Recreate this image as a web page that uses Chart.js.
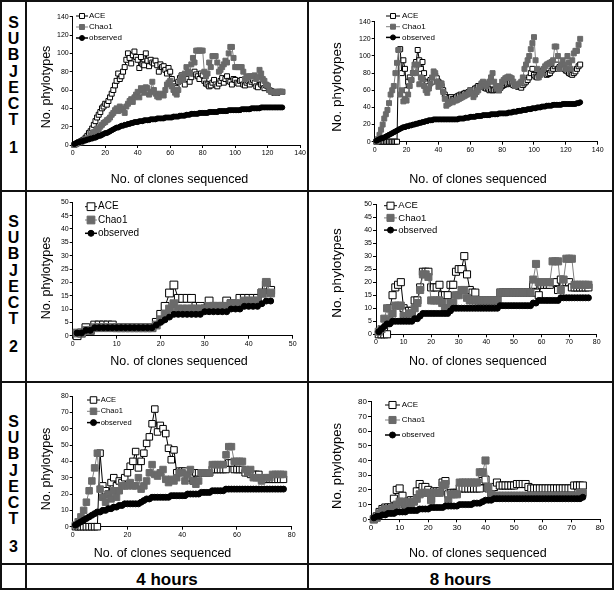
<!DOCTYPE html>
<html>
<head>
<meta charset="utf-8">
<script src="https://cdn.jsdelivr.net/npm/chart.js@4.4.0/dist/chart.umd.min.js"></script>
<style>
body{margin:0;background:#fff;}
#wrap{position:relative;width:616px;height:591px;overflow:hidden;font-family:"Liberation Sans",Arial,sans-serif;color:#000;}
canvas{position:absolute;}
.ln{position:absolute;background:#111;}
.subj{position:absolute;left:0;width:27px;text-align:center;font-weight:bold;font-size:16px;line-height:16.2px;}
.subj span{display:block;margin-top:11.8px;}
.hrs{position:absolute;top:570px;font-weight:bold;font-size:17px;line-height:20px;text-align:center;}
</style>
</head>
<body>
<div id="wrap">
  <div class="subj" style="top:15px">S<br>U<br>B<br>J<br>E<br>C<br>T<span>1</span></div>
  <div class="subj" style="top:214px">S<br>U<br>B<br>J<br>E<br>C<br>T<span>2</span></div>
  <div class="subj" style="top:414px">S<br>U<br>B<br>J<br>E<br>C<br>T<span>3</span></div>
  <div class="hrs" style="left:27px;width:280px">4 hours</div>
  <div class="hrs" style="left:309px;width:303px">8 hours</div>
</div>
<script>
// subject 1, 4 hours (x = 1..129)
const s1h4Ace = [0,1,2,3,4,5,6,8,10,13, 15,18,22,26,30,33,36,40,42,45, 44,48,52,56,60,65,70,78,72,75,
  80,85,93,100,95,89,98,102,96,93, 84,96,88,87,100,92,86,93,90,89, 92,87,80,88,85,86,82,78,84,80,
  72,67,64,62,69,73,76,70,66,75, 72,69,74,78,80,77,75,72,78,76, 70,67,66,64,65,68,71,66,64,67,
  70,73,68,72,75,70,69,66,72,71, 68,67,70,71,66,65,68,70,66,69, 71,68,64,63,71,66,67,62,65,64,
  60,59,58,57,58,57,58,58,58];
const s1h4Chao = [0,1,2,3,3,4,5,6,7,8, 10,12,14,15,18,16,20,22,24,25, 27,28,30,33,35,38,40,37,42,40,
  38,35,42,45,48,50,47,52,55,58, 52,62,60,57,63,62,55,58,69,60, 56,53,52,56,55,54,60,66,68,70,
  64,60,57,55,60,70,75,72,78,85, 80,78,88,95,90,103,103,103,103,103, 80,75,78,90,85,97,97,97,90,80,
  82,85,88,92,90,100,107,107,95,85, 85,85,85,85,80,72,75,74,75,75, 75,76,72,74,82,78,72,70,66,65,
  60,58,58,58,57,58,58,58,58];
const s1h4Obs = [1,2,3,3,4,4,5,5,6,6, 7,7,8,8,9,10,10,11,12,13, 13,14,15,16,17,18,19,19,20,21,
  21,22,22,23,23,24,24,25,25,25, 26,26,26,27,27,27,27,28,28,28, 28,29,29,29,29,29,30,30,30,30,
  30,31,31,31,31,32,32,32,32,33, 33,33,34,34,34,34,34,35,35,35, 35,35,35,36,36,36,36,36,36,37,
  37,37,37,37,37,38,38,38,38,38, 38,38,38,39,39,39,39,39,39,40, 40,40,40,40,40,41,41,41,41,41,
  41,41,41,41,41,41,41,41,41];

// subject 1, 8 hours (x = 1..129)
const s1h8Ace = [0,0,0,0,0,0,0,0,0,0, 0,0,0,0,107,108,80,95,85,60, 70,75,72,80,85,93,107,95,85,93,
  80,70,68,65,72,70,75,77,74,70, 68,65,60,55,52,50,51,52,50,50, 52,53,54,55,54,56,57,56,58,60,
  58,60,62,63,65,64,66,65,63,62, 62,60,61,60,60,61,62,60,63,65, 66,68,67,68,69,68,66,65,65,64,
  65,63,66,68,70,72,75,80,85,78, 76,75,78,80,82,84,80,78,79,80, 83,85,88,90,85,87,88,86,85,83,
  82,80,79,78,80,82,85,88,90];
const s1h8Chao = [0,3,8,14,20,27,32,37,45,55, 60,65,80,92,107,55,60,47,50,48, 55,65,72,80,90,80,90,67,75,73,
  65,60,57,62,68,75,82,80,70,64, 66,68,58,50,42,44,45,47,46,48, 48,49,50,51,52,53,54,55,57,60,
  56,52,55,58,60,64,68,70,67,65, 68,70,75,80,70,65,62,60,65,70, 72,74,75,76,75,74,70,65,66,67,
  68,70,75,85,90,95,100,108,115,122, 95,85,75,78,80,85,88,90,91,92, 93,95,111,111,100,85,90,95,90,85,
  100,92,85,95,103,106,106,113,120];
const s1h8Obs = [1,2,3,4,4,5,6,7,8,9, 10,11,12,13,14,15,16,17,17,18, 18,19,19,20,20,21,21,22,22,23,
  23,24,24,25,25,25,26,26,26,26, 26,26,26,26,26,26,26,26,26,26, 26,26,27,27,27,27,28,28,28,29,
  29,29,29,30,30,30,30,31,31,31, 31,31,32,32,32,32,32,33,33,33, 33,33,33,34,34,34,35,35,35,36,
  36,36,37,37,37,38,38,38,39,39, 39,40,40,40,41,41,41,42,42,42, 42,43,43,43,43,43,43,44,44,44,
  44,44,44,44,44,44,45,45,46];

// subject 2, 4 hours (x = 1..45)
const s2h4Ace = [0,1,3,2,4,4,4,4,4,3, 3,3,3,3,3,3,3,3,5,8, 11,16,19,14,14,14,14,11,11,10,
  13,11,11,11,13,12,12,14,14,14, 14,14,16,19,17];
const s2h4Chao = [1,1,2,2,3,3,3,3,3,3, 3,3,3,3,3,3,3,3,4,6, 8,10,12,10,10,10,10,10,10,10,
  11,11,11,11,11,12,12,12,13,13, 13,13,16,20,16];
const s2h4Obs = [1,1,2,2,3,3,3,3,3,3, 3,3,3,3,3,3,3,3,4,5, 6,7,8,8,8,8,8,8,8,9,
  9,9,9,9,9,10,10,10,11,11, 11,11,12,13,13];

// subject 2, 8 hours (x = 1..77)
const s2h8Ace = [0,0,0,0,10,15,18,19,20,10, 9,9,9,13,13,18,24,24,24,18, 18,18,19,15,15,15,19,19,24,25,
  25,30,23,17,16,16,13,13,13,13, 13,13,13,13,16,16,16,16,16,16, 16,16,16,16,16,16,19,16,15,19,
  19,19,19,20,20,17,21,20,20,20, 18,18,18,18,18,18,18];
const s2h8Chao = [1,2,6,10,5,8,11,11,11,7, 7,8,8,10,12,17,23,23,22,13, 13,13,13,12,10,10,12,12,15,15,
  17,17,14,13,13,13,13,13,13,13, 13,13,13,13,16,16,16,16,16,16, 16,16,16,16,16,16,21,27,20,20,
  20,20,20,28,28,28,17,21,29,29, 29,19,19,19,19,19,19];
const s2h8Obs = [1,2,3,4,4,5,5,5,5,5, 5,5,5,6,6,7,8,8,8,8, 8,8,8,8,8,8,9,10,10,10,
  10,10,10,10,10,10,10,10,10,10, 10,10,10,10,11,11,11,11,11,11, 11,11,11,11,11,11,12,12,13,13,
  13,13,13,13,13,13,14,14,14,14, 14,14,14,14,14,14,14];

// subject 3, 4 hours (x = 1..77)
const s3h4Ace = [0,0,0,0,0,0,0,0,0,45, 25,22,20,27,30,25,28,27,30,33, 37,40,46,36,40,45,51,55,63,72,
  58,62,60,57,48,41,47,33,34,34, 34,30,30,28,33,33,33,33,33,33, 35,35,35,35,35,35,39,39,35,35,
  35,35,33,33,32,32,32,32,29,29, 29,29,29,29,29,29,29];
const s3h4Chao = [1,3,6,10,15,22,28,36,45,23, 18,15,20,17,22,18,22,25,25,25, 27,25,25,30,23,25,28,33,38,32,
  31,33,35,29,27,29,28,30,33,33, 28,32,35,28,26,28,33,33,33,33, 38,38,38,38,38,44,49,49,40,40,
  40,40,35,33,35,30,30,30,28,30, 30,30,32,32,32,32,32];
const s3h4Obs = [1,2,3,4,5,6,7,8,9,9, 10,10,11,11,12,12,13,13,14,14, 14,14,14,14,15,16,17,17,18,18,
  18,18,18,18,18,19,19,19,19,19, 19,20,20,20,20,20,21,21,21,21, 22,22,22,22,22,23,23,23,23,23,
  23,23,23,23,23,23,23,23,23,23, 23,23,23,23,23,23,23];

// subject 3, 8 hours (x = 1..74)
const s3h8Ace = [0,2,5,7,8,8,8,14,20,21, 16,10,12,13,13,19,24,22,22,20, 14,19,19,19,25,26,17,18,18,18,
  21,21,21,21,21,21,21,21,26,27, 21,18,22,25,23,23,23,23,23,23, 24,24,24,24,22,21,21,21,21,21,
  21,21,21,21,21,21,21,21,21,21, 23,23,23,23];
const s3h8Chao = [0,1,4,6,7,7,7,8,10,12, 12,10,12,10,12,14,17,18,18,18, 13,18,18,18,23,24,13,17,17,17,
  25,25,25,25,25,25,25,32,32,40, 22,17,16,16,16,16,16,16,16,16, 16,16,16,16,16,16,16,16,16,16,
  16,16,16,16,16,16,16,16,16,16, 16,16,18,18];
const s3h8Obs = [1,2,2,3,3,4,4,4,5,5, 5,5,6,6,6,6,7,7,7,7, 8,8,8,8,8,9,9,9,9,9,
  10,10,10,10,10,11,11,11,12,13, 13,13,14,14,14,14,14,14,14,14, 14,14,14,14,14,14,14,14,14,14,
  14,14,14,14,14,14,14,14,14,14, 14,14,14,15];

const seriesNames = ['ACE', 'Chao1', 'observed'];

// panel layout, page coordinates
const panels = [
  {cell:[27,2,280,189], area:[72.7,16.7,300.7,145], xMax:140, xStep:20, yMax:140, yStep:20,
   data:[s1h4Ace,s1h4Chao,s1h4Obs], sq:3.5, dot:2.5, tick:7,
   legend:{x:82,tx:89,y:16,gap:11,size:8,half:6}, xTitle:[179.5,180,12.5], yTitle:[47,87,12.5]},
  {cell:[309,2,303,189], area:[374.7,21.7,597.7,141.7], xMax:140, xStep:20, yMax:140, yStep:20,
   data:[s1h8Ace,s1h8Chao,s1h8Obs], sq:3.5, dot:2.5, tick:7,
   legend:{x:393,tx:402,y:16,gap:10.7,size:8,half:7}, xTitle:[478,180,12.5], yTitle:[337.7,87,13.5]},
  {cell:[27,193,280,188], area:[72.7,202.3,292.7,335.7], xMax:50, xStep:10, yMax:50, yStep:5,
   data:[s2h4Ace,s2h4Chao,s2h4Obs], sq:5.5, dot:3, tick:7,
   legend:{x:91,tx:98,y:206.7,gap:13.3,size:10,half:6}, xTitle:[179,361.7,12.5], yTitle:[46.7,278,12.5]},
  {cell:[309,193,303,188], area:[376,204,596.7,334.3], xMax:80, xStep:10, yMax:50, yStep:5,
   data:[s2h8Ace,s2h8Chao,s2h8Obs], sq:5, dot:3, tick:7,
   legend:{x:390.5,tx:398.3,y:205.7,gap:12.2,size:9.5,half:6.5}, xTitle:[477.8,361.7,12.5], yTitle:[337.7,273,13.5]},
  {cell:[27,383,280,180], area:[72.7,396,291.7,526.7], xMax:80, xStep:20, yMax:80, yStep:10,
   data:[s3h4Ace,s3h4Chao,s3h4Obs], sq:4.6, dot:3, tick:7,
   legend:{x:93.5,tx:100.7,y:400,gap:11.3,size:7.5,half:6.5}, xTitle:[162.5,553.3,12.5], yTitle:[46.7,469,12.5]},
  {cell:[309,383,303,180], area:[371,401.7,600,519.3], xMax:80, xStep:10, yMax:80, yStep:10,
   data:[s3h8Ace,s3h8Chao,s3h8Obs], sq:5, dot:3, tick:8,
   legend:{x:392.5,tx:401.7,y:405,gap:15,size:8,half:7.5}, xTitle:[477.8,554,12.5], yTitle:[337.7,466,13]}
];

const FONT = '"Liberation Sans", Arial, sans-serif';
const Y_W = 22, X_H = 14;

// legend and axis titles drawn at fixed spots, like the original
const panelText = {
  id: 'panelText',
  afterDraw(chart, args, o) {
    const ctx = chart.ctx;
    const ox = o.cell[0], oy = o.cell[1];
    const L = o.legend;
    ctx.save();
    chart.data.datasets.forEach((ds, i) => {
      const cx = L.x - ox, y = L.y - oy + i * L.gap;
      ctx.strokeStyle = ds.borderColor;
      ctx.lineWidth = ds.borderWidth;
      ctx.beginPath();
      ctx.moveTo(cx - L.half, y);
      ctx.lineTo(cx + L.half, y);
      ctx.stroke();
      ctx.fillStyle = ds.pointBackgroundColor;
      ctx.strokeStyle = ds.pointBorderColor;
      ctx.lineWidth = 1;
      ctx.beginPath();
      if (ds.pointStyle === 'circle') {
        ctx.arc(cx, y, ds.pointRadius, 0, Math.PI * 2);
      } else {
        const s = ds.pointRadius * Math.SQRT1_2;
        ctx.rect(cx - s, y - s, 2 * s, 2 * s);
      }
      ctx.fill();
      ctx.stroke();
      ctx.fillStyle = '#000';
      ctx.font = L.size + 'px ' + FONT;
      ctx.textAlign = 'left';
      ctx.textBaseline = 'middle';
      ctx.fillText(ds.label, L.tx - ox, y);
    });
    ctx.fillStyle = '#000';
    ctx.textAlign = 'center';
    ctx.textBaseline = 'middle';
    ctx.font = o.xTitle[2] + 'px ' + FONT;
    ctx.fillText('No. of clones sequenced', o.xTitle[0] - ox, o.xTitle[1] - oy);
    ctx.translate(o.yTitle[0] - ox, o.yTitle[1] - oy);
    ctx.rotate(-Math.PI / 2);
    ctx.font = o.yTitle[2] + 'px ' + FONT;
    ctx.fillText('No. phylotypes', 0, 0);
    ctx.restore();
  }
};

const wrap = document.getElementById('wrap');

panels.forEach(p => {
  const cv = document.createElement('canvas');
  cv.width = p.cell[2];
  cv.height = p.cell[3];
  cv.style.left = p.cell[0] + 'px';
  cv.style.top = p.cell[1] + 'px';
  wrap.insertBefore(cv, wrap.firstChild);

  const xy = arr => arr.map((v, i) => ({x: i + 1, y: v}));
  const axisTicks = {color: '#000', font: {family: FONT, size: p.tick}, padding: 1};
  const axisGrid = {drawOnChartArea: false, drawTicks: true, tickLength: 3, color: '#000', lineWidth: 1};

  new Chart(cv, {
    type: 'line',
    data: {
      datasets: [
        {
          label: seriesNames[0], data: xy(p.data[0]), order: 3,
          borderColor: '#000', borderWidth: 1,
          pointStyle: 'rect', pointRadius: p.sq, pointBackgroundColor: '#fff',
          pointBorderColor: '#000', pointBorderWidth: 1, clip: false
        },
        {
          label: seriesNames[1], data: xy(p.data[1]), order: 2,
          borderColor: '#808080', borderWidth: 1,
          pointStyle: 'rect', pointRadius: p.sq, pointBackgroundColor: '#6a6a6a',
          pointBorderColor: '#6a6a6a', pointBorderWidth: 1, clip: false
        },
        {
          label: seriesNames[2], data: xy(p.data[2]), order: 1,
          borderColor: '#000', borderWidth: 1.5,
          pointStyle: 'circle', pointRadius: p.dot, pointBackgroundColor: '#000',
          pointBorderColor: '#000', pointBorderWidth: 1, clip: false
        }
      ]
    },
    options: {
      responsive: false,
      animation: false,
      layout: {
        padding: {
          left: p.area[0] - p.cell[0] - Y_W,
          top: p.area[1] - p.cell[1],
          right: p.cell[0] + p.cell[2] - p.area[2],
          bottom: p.cell[1] + p.cell[3] - p.area[3] - X_H
        }
      },
      scales: {
        x: {
          type: 'linear', min: 0, max: p.xMax,
          ticks: Object.assign({stepSize: p.xStep, maxRotation: 0}, axisTicks),
          grid: axisGrid, border: {color: '#000'},
          afterFit(s) { s.height = X_H; }
        },
        y: {
          min: 0, max: p.yMax,
          ticks: Object.assign({stepSize: p.yStep}, axisTicks),
          grid: axisGrid, border: {color: '#000'},
          afterFit(s) { s.width = Y_W; }
        }
      },
      plugins: {
        legend: {display: false},
        tooltip: {enabled: false},
        panelText: p
      }
    },
    plugins: [panelText]
  });
});

// table rules
[
  [0,0,614,2],[0,190,614,2],[0,381,614,2],[0,563,614,2],[0,588,614,2],
  [0,0,2,590],[25,0,2,590],[307,0,2,590],[612,0,2,590]
].forEach(r => {
  const d = document.createElement('div');
  d.className = 'ln';
  d.style.left = r[0] + 'px';
  d.style.top = r[1] + 'px';
  d.style.width = r[2] + 'px';
  d.style.height = r[3] + 'px';
  wrap.appendChild(d);
});
</script>
</body>
</html>
